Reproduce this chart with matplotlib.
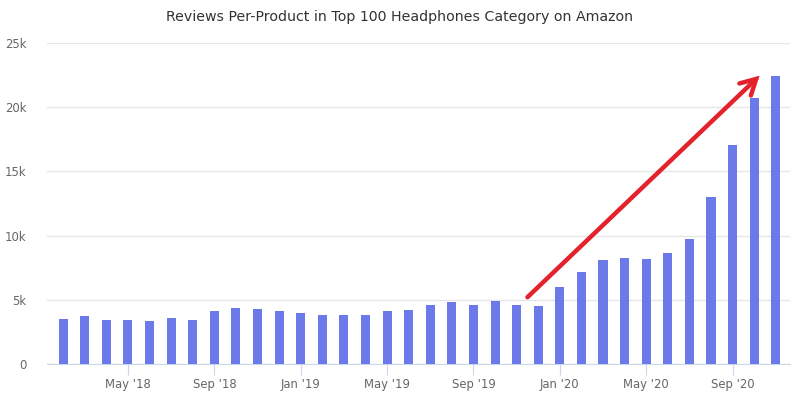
import matplotlib.pyplot as plt

## データ
# 月 (Feb '18 - Nov '20)
months = ["Feb '18", "Mar '18", "Apr '18", "May '18", "Jun '18", "Jul '18", "Aug '18",
          "Sep '18", "Oct '18", "Nov '18", "Dec '18", "Jan '19", "Feb '19", "Mar '19",
          "Apr '19", "May '19", "Jun '19", "Jul '19", "Aug '19", "Sep '19", "Oct '19",
          "Nov '19", "Dec '19", "Jan '20", "Feb '20", "Mar '20", "Apr '20", "May '20",
          "Jun '20", "Jul '20", "Aug '20", "Sep '20", "Oct '20", "Nov '20"]
# 製品あたりのレビュー数
reviews = [3500, 3740, 3430, 3430, 3350, 3580, 3430,
           4130, 4360, 4280, 4130, 3970, 3820, 3820,
           3820, 4130, 4210, 4600, 4830, 4600, 4900,
           4600, 4520, 6000, 7170, 8100, 8250, 8180,
           8640, 9730, 13000, 17060, 20700, 22400]
tick_labels = ["May '18", "Sep '18", "Jan '19", "May '19", "Sep '19", "Jan '20", "May '20", "Sep '20"]
y_ticks = [0, 5000, 10000, 15000, 20000, 25000]
y_labels = ["0", "5k", "10k", "15k", "20k", "25k"]

# 矢印 (開始点と終点, 月インデックスと値)
arrow_start = (21.5, 5200)
arrow_end = (32.25, 22450)

fig = plt.figure(figsize=(8, 3.98), dpi=100)
ax = fig.add_axes([0.059, 0.0854, 0.9285, 0.8066])

x = list(range(len(months)))
ax.bar(x, reviews, width=0.42, color="#6c79e8", zorder=3)

ax.set_ylim(0, 25000)
ax.set_xlim(-0.74, 33.66)
ax.set_yticks(y_ticks)
ax.set_yticklabels(y_labels)
ax.set_xticks([months.index(t) for t in tick_labels])
ax.set_xticklabels(tick_labels)

# グリッドと軸
ax.grid(axis="y", color="#e6e6e6", linewidth=1, zorder=0)
for s in ["top", "right", "left"]:
    ax.spines[s].set_visible(False)
ax.spines["bottom"].set_color("#ccd6eb")
ax.tick_params(axis="y", length=0, labelsize=8.4, labelcolor="#666666", pad=15)
ax.tick_params(axis="x", length=8, color="#ccd6eb", labelsize=8.4, labelcolor="#666666", pad=2)

# タイトル
fig.text(0.5, 0.957, "Reviews Per-Product in Top 100 Headphones Category on Amazon",
         ha="center", va="center", fontsize=10.2, color="#333333")

# 赤い矢印
ax.annotate("", xy=arrow_end, xytext=arrow_start,
            arrowprops=dict(arrowstyle="->,head_length=1.1,head_width=0.6", color="#e3222b",
                            lw=3.2, shrinkA=0, shrinkB=0, joinstyle="miter", capstyle="round"),
            zorder=5)

plt.savefig("out.png", dpi=100)
